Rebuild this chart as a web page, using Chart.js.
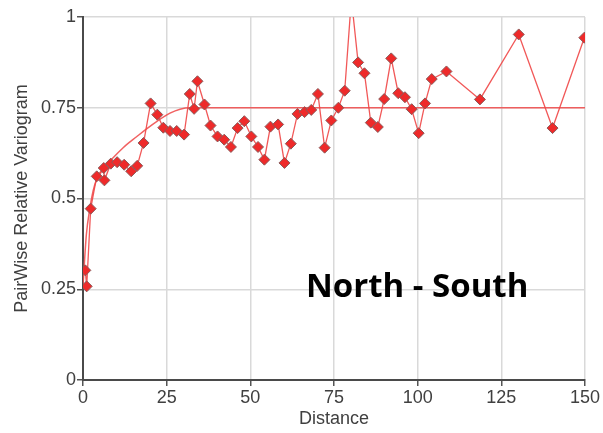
<!DOCTYPE html>
<html>
<head>
<meta charset="utf-8">
<script src="https://cdn.jsdelivr.net/npm/chart.js@4/dist/chart.umd.min.js"></script>
<style>
  html, body { margin: 0; padding: 0; background: #ffffff; overflow: hidden; }
  #wrap { width: 603px; height: 433px; position: relative; }
</style>
</head>
<body>
<div id="wrap"><canvas id="chart" width="603" height="433"></canvas></div>
<script>
// Experimental pairwise relative variogram (lag distance vs. value)
const distance = [0.7, 1.1, 2.3, 4.1, 6.2, 6.4, 8.3, 10.2, 12.3, 14.4, 16.2, 18.1,
  20.2, 22.2, 24.0, 26.0, 28.0, 30.2, 31.9, 33.2, 34.2, 36.3, 38.1, 40.2,
  42.2, 44.2, 46.2, 48.2, 50.3, 52.3, 54.2, 56.0, 58.3, 60.2, 62.1, 64.1,
  66.2, 68.2, 70.2, 72.2, 74.2, 76.3, 78.2, 80.2, 82.2, 84.1, 86.0, 88.1,
  90.0, 92.1, 94.2, 96.2, 98.2, 100.3, 102.2, 104.2, 108.6, 118.6, 130.2, 140.3, 149.8];
const variogram = [0.302, 0.258, 0.472, 0.561, 0.584, 0.550, 0.596, 0.600, 0.593, 0.575, 0.590, 0.653,
  0.762, 0.731, 0.695, 0.686, 0.686, 0.676, 0.788, 0.747, 0.823, 0.759, 0.701, 0.671,
  0.662, 0.642, 0.694, 0.713, 0.671, 0.642, 0.607, 0.698, 0.704, 0.598, 0.651, 0.733,
  0.738, 0.744, 0.788, 0.640, 0.715, 0.750, 0.797, 1.05, 0.875, 0.845, 0.709, 0.697,
  0.774, 0.886, 0.790, 0.779, 0.746, 0.680, 0.762, 0.829, 0.850, 0.773, 0.952, 0.694, 0.943];

// Fitted model curve (rises to the 0.75 sill)
const modelDistance = [0, 1, 2, 3, 4, 6, 9, 12, 16, 19, 22, 26, 29, 32, 150];
const modelValue = [0.26, 0.40, 0.47, 0.52, 0.55, 0.58, 0.612, 0.64, 0.67, 0.692, 0.712, 0.735, 0.746, 0.75, 0.75];

// Axis ticks and their labels
const xTicks = [0, 25, 50, 75, 100, 125, 150];
const xTickLabels = ['0', '25', '50', '75', '100', '125', '150'];
const yTicks = [0, 0.25, 0.5, 0.75, 1];
const yTickLabels = ['0', '0.25', '0.5', '0.75', '1'];

const directionLabel = 'North - South';

const pts = (xs, ys) => xs.map((x, i) => ({ x: x, y: ys[i] }));

const labelPlugin = {
  id: 'directionLabel',
  afterDatasetsDraw(chart) {
    const ctx = chart.ctx;
    ctx.save();
    ctx.font = 'bold 33px "Open Sans", "Noto Sans", sans-serif';
    ctx.fillStyle = '#000000';
    ctx.textBaseline = 'alphabetic';
    ctx.textAlign = 'left';
    ctx.fillText(directionLabel, 306, 297);
    ctx.restore();
  }
};

const axisFont = { family: '"Liberation Sans", Arial, sans-serif', size: 18 };
const textColor = '#404040';

new Chart(document.getElementById('chart'), {
  type: 'scatter',
  data: {
    datasets: [
      {
        label: 'Experimental',
        data: pts(distance, variogram),
        showLine: true,
        borderColor: 'rgba(240, 70, 70, 0.9)',
        borderWidth: 1.3,
        pointStyle: 'rectRot',
        pointRadius: 5.5,
        pointBackgroundColor: '#ee2a2a',
        pointBorderColor: '#8a5a5a',
        pointBorderWidth: 1,
        order: 0
      },
      {
        label: 'Model',
        data: pts(modelDistance, modelValue),
        showLine: true,
        borderColor: 'rgba(240, 80, 80, 0.9)',
        borderWidth: 1.5,
        pointRadius: 0,
        cubicInterpolationMode: 'monotone',
        order: 1
      }
    ]
  },
  options: {
    responsive: false,
    animation: false,
    events: [],
    layout: { padding: { left: 0, right: 18, top: 17, bottom: 0 } },
    plugins: { legend: { display: false }, tooltip: { enabled: false } },
    scales: {
      x: {
        type: 'linear',
        min: 0,
        max: 150,
        afterBuildTicks: (scale) => { scale.ticks = xTicks.map(v => ({ value: v })); },
        afterFit: (scale) => { scale.height = 53; },
        ticks: {
          font: axisFont, color: textColor, padding: 1, maxRotation: 0,
          callback: (v) => xTickLabels[xTicks.indexOf(v)]
        },
        grid: { color: '#d9d9d9', lineWidth: 1.5, tickColor: '#555555', tickLength: 6 },
        border: { color: '#4a4a4a', width: 2 },
        title: { display: true, text: 'Distance', font: axisFont, color: textColor, padding: { top: 0, bottom: 3 } }
      },
      y: {
        type: 'linear',
        min: 0,
        max: 1,
        afterBuildTicks: (scale) => { scale.ticks = yTicks.map(v => ({ value: v })); },
        afterFit: (scale) => { scale.width = 83; },
        ticks: {
          font: axisFont, color: textColor, padding: 1,
          callback: (v) => yTickLabels[yTicks.indexOf(v)]
        },
        grid: { color: '#d9d9d9', lineWidth: 1.5, tickColor: '#555555', tickLength: 6 },
        border: { color: '#4a4a4a', width: 2 },
        title: { display: true, text: 'PairWise Relative Variogram', font: axisFont, color: textColor, padding: { top: 11, bottom: 0 } }
      }
    }
  },
  plugins: [labelPlugin]
});
</script>
</body>
</html>
